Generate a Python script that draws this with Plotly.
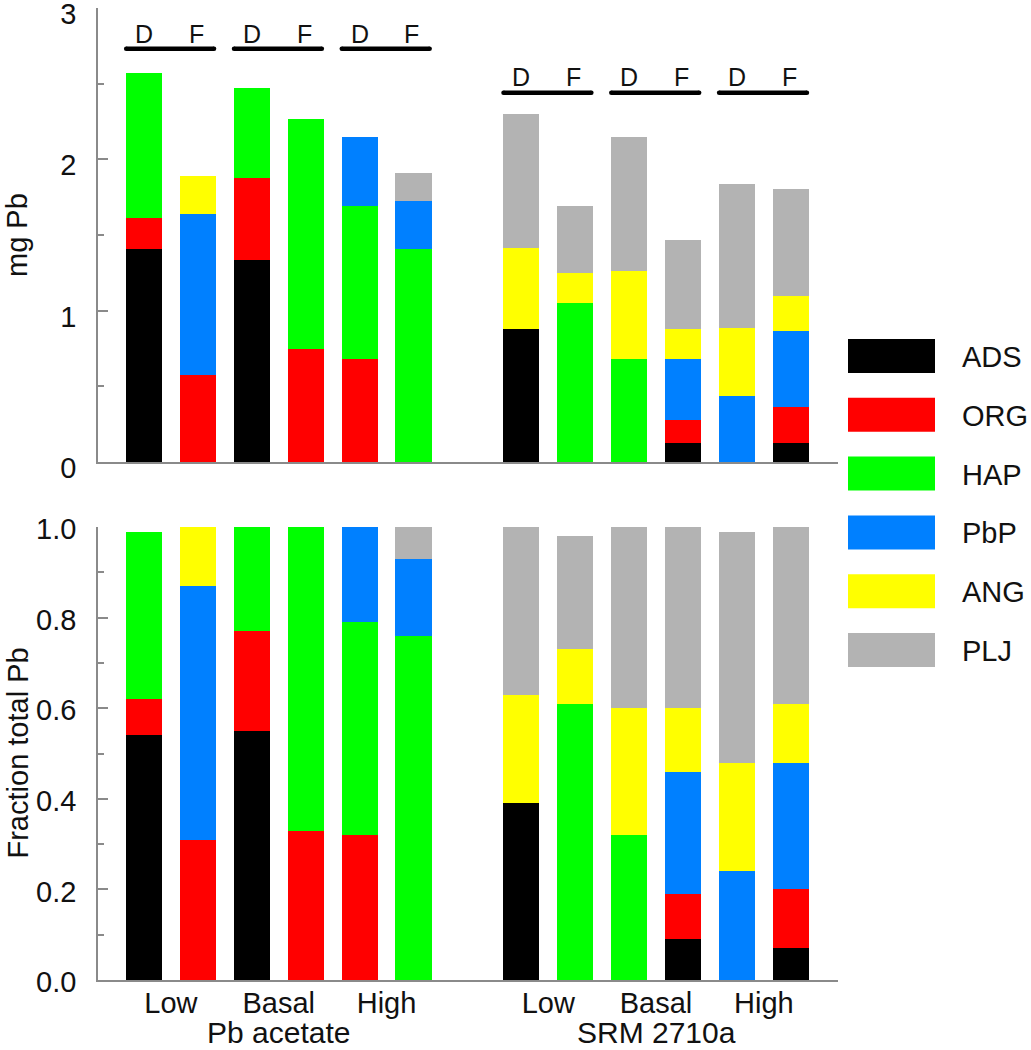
import plotly.graph_objects as go

# ---------------- data ----------------
sources = ["Pb acetate", "SRM 2710a"]
levels = ["Low", "Basal", "High"]
diets = ["D", "F"]
components = ["ADS", "ORG", "HAP", "PbP", "ANG", "PLJ"]
colors = ["#000000", "#FF0000", "#00FF00", "#0080FF", "#FFFF00", "#B3B3B3"]

# order: Pb acetate Low D, Low F, Basal D, Basal F, High D, High F, then SRM 2710a same order
mg_ADS = [1.41, None, 1.335, None, None, None, 0.877, None, None, 0.128, None, 0.128]
mg_ORG = [0.20, 0.575, 0.54, 0.745, 0.68, None, None, None, None, 0.15, None, 0.238]
mg_HAP = [0.96, None, 0.595, 1.52, 1.01, 1.405, None, 1.05, 0.68, None, None, None]
mg_PbP = [None, 1.065, None, None, 0.455, 0.32, None, None, None, 0.40, 0.436, 0.50]
mg_ANG = [None, 0.25, None, None, None, None, 0.535, 0.20, 0.58, 0.198, 0.45, 0.23]
mg_PLJ = [None, None, None, None, None, 0.183, 0.89, 0.44, 0.89, 0.59, 0.95, 0.71]

fr_ADS = [0.54, None, 0.55, None, None, None, 0.39, None, None, 0.09, None, 0.07]
fr_ORG = [0.08, 0.31, 0.22, 0.33, 0.32, None, None, None, None, 0.10, None, 0.13]
fr_HAP = [0.37, None, 0.23, 0.67, 0.47, 0.76, None, 0.61, 0.32, None, None, None]
fr_PbP = [None, 0.56, None, None, 0.21, 0.17, None, None, None, 0.27, 0.24, 0.28]
fr_ANG = [None, 0.13, None, None, None, None, 0.24, 0.12, 0.28, 0.14, 0.24, 0.13]
fr_PLJ = [None, None, None, None, None, 0.07, 0.37, 0.25, 0.40, 0.40, 0.51, 0.39]

mg_vals = [mg_ADS, mg_ORG, mg_HAP, mg_PbP, mg_ANG, mg_PLJ]
fr_vals = [fr_ADS, fr_ORG, fr_HAP, fr_PbP, fr_ANG, fr_PLJ]

# ---------------- layout helpers ----------------
W, H = 1031, 1050
FONT = "Liberation Sans, Arial, sans-serif"
AXCOL = "#8a8a8a"
BARW = 0.67

positions = []
for g in range(len(sources)):
    for l in range(len(levels)):
        for d in range(len(diets)):
            positions.append(g * 7 + l * 2 + d)

def px_x(p):
    return p / W

def px_y(p):
    return 1 - p / H

fig = go.Figure()

for comp, col, mv, fv in zip(components, colors, mg_vals, fr_vals):
    fig.add_trace(go.Bar(x=positions, y=mv, name=comp, marker=dict(color=col, line=dict(width=0)),
                         width=BARW, xaxis="x", yaxis="y", showlegend=False))
    fig.add_trace(go.Bar(x=positions, y=fv, name=comp, marker=dict(color=col, line=dict(width=0)),
                         width=BARW, xaxis="x2", yaxis="y2", showlegend=False))

xdom = [px_x(98), px_x(838)]
xrange_ = [-0.853, 12.876]

tickpos = [g * 7 + l * 2 + 0.5 for g in range(len(sources)) for l in range(len(levels))]
ticktext = [lv for g in range(len(sources)) for lv in levels]

fig.update_layout(
    width=W, height=H,
    margin=dict(l=0, r=0, t=0, b=0, autoexpand=False),
    paper_bgcolor="white", plot_bgcolor="white",
    barmode="stack", bargap=0,
    font=dict(family=FONT, size=29, color="#111111"),
    xaxis=dict(domain=xdom, range=xrange_, showline=True, linecolor=AXCOL, linewidth=1.5,
               showgrid=False, zeroline=False, showticklabels=False, ticks="", anchor="y",
               automargin=False),
    yaxis=dict(domain=[px_y(462), px_y(8)], range=[0, 3], showline=True, linecolor=AXCOL,
               linewidth=1.5, showgrid=False, zeroline=False, tickvals=[0, 1, 2, 3],
               ticks="inside", ticklen=10, tickcolor=AXCOL, tickwidth=1.5,
               minor=dict(ticks="inside", ticklen=6, dtick=0.5, tick0=0, tickcolor=AXCOL, tickwidth=1.5),
               ticklabelstandoff=14, ticklabelshift=6, ticklabeloverflow="allow",
               anchor="x", automargin=False),
    xaxis2=dict(domain=xdom, range=xrange_, showline=True, linecolor=AXCOL, linewidth=1.5,
                showgrid=False, zeroline=False, tickvals=tickpos, ticktext=ticktext, ticks="",
                ticklabelstandoff=-4, anchor="y2", automargin=False),
    yaxis2=dict(domain=[px_y(980), px_y(527)], range=[0, 1.0], showline=True, linecolor=AXCOL,
                linewidth=1.5, showgrid=False, zeroline=False, tickvals=[0, 0.2, 0.4, 0.6, 0.8, 1.0],
                tickformat=".1f", ticks="inside", ticklen=10, tickcolor=AXCOL, tickwidth=1.5,
                minor=dict(ticks="inside", ticklen=6, dtick=0.1, tick0=0, tickcolor=AXCOL, tickwidth=1.5),
                ticklabelstandoff=14, ticklabelshift=2, anchor="x2", automargin=False),
)

annotations = []
shapes = []

# axis titles
annotations.append(dict(text="mg Pb", x=px_x(17), y=(px_y(462) + px_y(8)) / 2, xref="paper", yref="paper",
                        textangle=-90, showarrow=False, xanchor="center", yanchor="middle",
                        font=dict(size=29)))
annotations.append(dict(text="Fraction total Pb", x=px_x(17), y=(px_y(980) + px_y(527)) / 2,
                        xref="paper", yref="paper", textangle=-90, showarrow=False,
                        xanchor="center", yanchor="middle", font=dict(size=29)))

# group labels
for g, s in enumerate(sources):
    annotations.append(dict(text=s, x=g * 7 + 2.5, y=px_y(1032), xref="x2", yref="paper",
                            showarrow=False, xanchor="center", yanchor="middle", font=dict(size=30)))

# D / F labels and bracket lines in the top panel
label_y = [2.83, 2.545]
line_y = [2.73, 2.44]
for g in range(len(sources)):
    for l in range(len(levels)):
        base = g * 7 + l * 2
        for d, dl in enumerate(diets):
            annotations.append(dict(text=dl, x=base + d - 0.03 * d, y=label_y[g], xref="x", yref="y",
                                    showarrow=False, xanchor="center", yanchor="middle",
                                    font=dict(size=25)))
        fig.add_trace(go.Scatter(x=[base - 0.33, base + 1 + 0.30], y=[line_y[g], line_y[g]],
                                 mode="lines", line=dict(color="black", width=4.5),
                                 xaxis="x", yaxis="y", showlegend=False, hoverinfo="skip"))
        fig.add_trace(go.Scatter(x=[base - 0.33, base + 1 + 0.30], y=[line_y[g], line_y[g]],
                                 mode="markers", marker=dict(color="black", size=4.5, line=dict(width=0)),
                                 xaxis="x", yaxis="y", showlegend=False, hoverinfo="skip"))

# legend (drawn manually for large swatches)
for i, (comp, col) in enumerate(zip(components, colors)):
    top = 339 + i * 58.8
    shapes.append(dict(type="rect", xref="paper", yref="paper", x0=px_x(848), x1=px_x(935),
                       y0=px_y(top + 34), y1=px_y(top), fillcolor=col, line=dict(width=0)))
    annotations.append(dict(text=comp, x=px_x(960), y=px_y(top + 18), xref="paper", yref="paper",
                            showarrow=False, xanchor="left", yanchor="middle", font=dict(size=29)))

fig.update_layout(annotations=annotations, shapes=shapes)

fig.write_html(
    "out.html",
    config={"displayModeBar": False},
    post_script="document.body.style.margin='0';document.body.style.overflow='hidden';",
)
